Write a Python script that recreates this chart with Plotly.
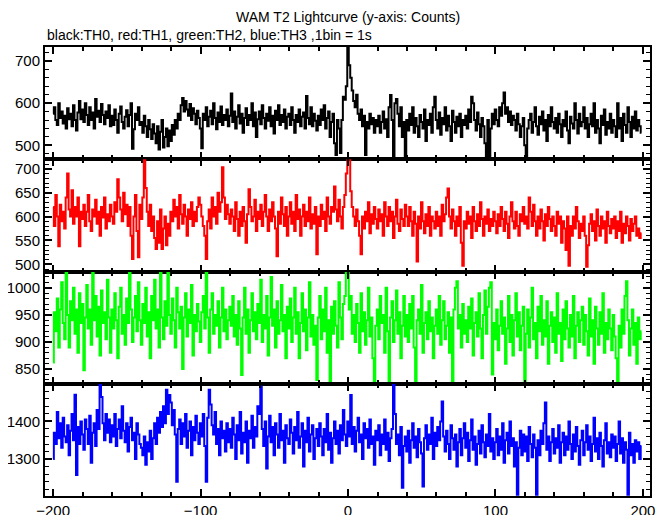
import plotly.graph_objects as go
from plotly.subplots import make_subplots

# time bins (s), 1 bin = 1 s
time_s = list(range(-200, 200))

th0_black = [
    575, 590, 560, 548, 600, 565, 580, 552, 570, 540, 588, 562, 575, 545, 595, 560, 535, 578, 605, 562,
    585, 555, 600, 572, 548, 590, 560, 578, 540, 610, 568, 582, 555, 598, 572, 550, 580, 565, 595, 545,
    570, 548, 585, 560, 530, 575, 592, 555, 540, 568, 583, 545, 572, 600, 492, 538, 575, 560, 590, 548,
    555, 530, 570, 545, 520, 560, 538, 515, 550, 528, 505, 545, 490, 532, 560, 495, 520, 540, 498, 535,
    510, 548, 525, 560, 540, 575, 560, 595, 612, 580, 605, 585, 570, 598, 560, 588, 575, 550, 582, 565,
    540, 493, 575, 560, 590, 545, 568, 582, 550, 600, 565, 538, 578, 555, 592, 548, 572, 560, 585, 545,
    570, 623, 555, 580, 540, 568, 595, 552, 575, 530, 565, 588, 548, 572, 560, 600, 545, 578, 520, 562,
    580, 550, 595, 565, 540, 575, 558, 590, 545, 570, 528, 582, 560, 595, 548, 572, 555, 585, 540, 568,
    575, 548, 590, 560, 530, 572, 555, 585, 545, 568, 578, 540, 617, 565, 550, 590, 545, 575, 558, 535,
    570, 548, 585, 560, 595, 540, 565, 580, 520, 555, 575, 505, 477, 560, 540, 482, 560, 615, 608, 640,
    745, 690, 660, 630, 605, 590, 620, 575, 560, 585, 545, 570, 477, 555, 540, 575, 550, 565, 530, 560,
    545, 570, 530, 555, 580, 540, 562, 520, 590, 619, 560, 472, 600, 610, 575, 545, 590, 520, 555, 470,
    560, 535, 575, 548, 590, 530, 565, 545, 520, 572, 555, 540, 585, 510, 560, 548, 575, 530, 590, 615,
    560, 540, 578, 525, 565, 550, 590, 535, 570, 545, 510, 582, 555, 530, 568, 545, 575, 520, 560, 548,
    570, 540, 585, 555, 615, 600, 560, 535, 578, 550, 520, 565, 545, 505, 472, 560, 470, 540, 575, 550,
    585, 560, 545, 590, 570, 600, 625, 575, 590, 555, 580, 548, 570, 560, 535, 575, 550, 520, 545, 565,
    500, 470, 540, 560, 575, 530, 555, 590, 545, 525, 568, 550, 580, 535, 560, 510, 572, 545, 590, 555,
    540, 565, 530, 575, 550, 520, 560, 545, 580, 535, 505, 568, 552, 540, 600, 560, 528, 575, 545, 555,
    590, 540, 565, 520, 550, 575, 545, 600, 530, 560, 540, 505, 570, 548, 585, 525, 555, 540, 575, 530,
    560, 545, 520, 600, 540, 565, 510, 575, 548, 530, 590, 555, 520, 568, 540, 580, 535, 560, 545, 530,
]

th1_red = [
    620, 580, 645, 600, 538, 625, 590, 610, 575, 640, 690, 615, 600, 655, 585, 620, 600, 640, 538, 610,
    595, 625, 580, 610, 645, 590, 570, 615, 600, 635, 585, 610, 560, 620, 598, 640, 575, 605, 590, 625,
    600, 585, 630, 610, 678, 640, 615, 590, 650, 605, 625, 580, 620, 560, 511, 600, 645, 570, 515, 625,
    595, 640, 725, 660, 610, 580, 625, 570, 600, 555, 532, 590, 545, 615, 532, 575, 600, 540, 585, 560,
    610, 590, 635, 600, 620, 575, 645, 605, 585, 625, 600, 560, 615, 595, 630, 580, 610, 590, 620, 640,
    625, 600, 580, 560, 511, 590, 615, 575, 640, 600, 620, 585, 650, 610, 630, 703, 640, 595, 625, 605,
    585, 615, 600, 570, 630, 595, 560, 610, 580, 620, 590, 545, 605, 657, 620, 590, 600, 635, 570, 610,
    595, 625, 580, 610, 645, 600, 570, 615, 590, 630, 600, 575, 517, 610, 585, 640, 605, 580, 620, 560,
    600, 630, 585, 610, 570, 645, 595, 615, 560, 600, 625, 580, 610, 590, 640, 575, 605, 585, 620, 521,
    600, 580, 625, 595, 610, 570, 640, 600, 585, 620, 610, 663, 615, 590, 635, 600, 575, 620, 645, 690,
    730, 725, 653, 620, 600, 580, 615, 590, 560, 521, 600, 575, 610, 590, 630, 565, 605, 585, 620, 595,
    575, 615, 590, 605, 560, 630, 600, 580, 620, 590, 610, 555, 600, 635, 585, 570, 615, 595, 580, 625,
    600, 580, 620, 590, 560, 610, 585, 506, 600, 575, 630, 590, 565, 605, 580, 620, 560, 600, 590, 575,
    610, 580, 600, 560, 625, 590, 605, 640, 659, 600, 575, 615, 590, 560, 600, 580, 620, 545, 497, 590,
    575, 610, 585, 600, 555, 620, 590, 570, 605, 580, 630, 595, 560, 600, 585, 615, 570, 595, 580, 610,
    590, 565, 605, 580, 620, 595, 570, 610, 585, 555, 600, 630, 590, 575, 610, 580, 560, 605, 590, 620,
    585, 600, 575, 640, 610, 580, 625, 590, 560, 600, 575, 615, 590, 550, 605, 580, 620, 595, 570, 600,
    580, 560, 610, 585, 600, 545, 590, 575, 530, 600, 497, 580, 560, 600, 575, 620, 590, 555, 585, 570,
    600, 560, 495, 540, 585, 605, 570, 590, 550, 615, 580, 560, 600, 575, 590, 545, 610, 580, 565, 595,
    575, 600, 555, 590, 570, 610, 545, 585, 565, 600, 580, 550, 595, 570, 585, 600, 560, 575, 555, 565,
]

th2_green = [
    862, 955, 920, 980, 890, 960, 1010, 935, 905, 1030, 950, 890, 975, 940, 1000, 915, 960, 880, 990, 935,
    970, 848, 945, 1005, 925, 960, 895, 1030, 940, 985, 910, 965, 875, 995, 935, 955, 905, 1015, 945, 880,
    960, 925, 990, 940, 870, 965, 1000, 915, 950, 895, 980, 935, 1030, 960, 900, 945, 985, 920, 1010, 940,
    895, 970, 935, 1000, 910, 955, 870, 985, 940, 1015, 925, 960, 890, 1030, 945, 905, 975, 930, 1030, 950,
    915, 980, 940, 890, 1000, 955, 925, 965, 850, 945, 990, 910, 960, 935, 1005, 875, 950, 920, 970, 938,
    900, 955, 985, 925, 1030, 945, 880, 960, 990, 915, 950, 930, 975, 890, 945, 1000, 920, 960, 905, 940,
    965, 930, 985, 910, 950, 895, 975, 925, 839, 945, 1000, 915, 960, 880, 940, 990, 920, 955, 905, 970,
    935, 1015, 900, 950, 925, 985, 875, 945, 1020, 930, 960, 890, 975, 915, 940, 1005, 920, 950, 870, 965,
    925, 980, 900, 945, 1000, 915, 955, 870, 935, 990, 920, 960, 885, 945, 1010, 910, 950, 895, 930, 830,
    945, 985, 905, 960, 920, 1000, 880, 940, 825, 965, 915, 975, 930, 890, 1010, 945, 905, 970, 985, 1030,
    1030, 960, 985, 915, 950, 900, 970, 935, 880, 990, 920, 955, 895, 940, 1000, 910, 945, 870, 823, 930,
    960, 905, 985, 935, 950, 880, 1000, 920, 823, 945, 975, 900, 940, 995, 915, 955, 870, 930, 985, 910,
    950, 900, 970, 925, 985, 890, 823, 940, 960, 915, 1005, 880, 935, 955, 905, 975, 920, 945, 870, 930,
    960, 915, 985, 895, 940, 975, 905, 930, 955, 880, 945, 827, 960, 1000, 1012, 925, 950, 890, 970, 915,
    940, 900, 965, 925, 980, 875, 935, 955, 910, 990, 925, 870, 950, 995, 915, 965, 1000, 1010, 840, 935,
    905, 960, 885, 930, 975, 915, 945, 860, 925, 985, 900, 950, 875, 940, 990, 910, 955, 885, 930, 965,
    827, 915, 960, 890, 945, 1000, 905, 935, 870, 965, 920, 985, 895, 940, 910, 975, 860, 930, 955, 900,
    945, 880, 990, 915, 935, 865, 960, 905, 975, 925, 890, 950, 910, 985, 870, 930, 955, 900, 940, 965,
    895, 950, 920, 875, 980, 910, 940, 860, 965, 925, 895, 955, 915, 990, 880, 935, 905, 960, 925, 885,
    950, 910, 870, 823, 930, 890, 960, 915, 985, 1012, 940, 875, 925, 960, 895, 935, 860, 945, 905, 920,
]

th3_blue = [
    1300, 1370, 1340, 1425, 1355, 1395, 1330, 1410, 1360, 1345, 1390, 1310, 1375, 1420, 1350, 1471, 1258, 1385, 1340, 1400,
    1365, 1325, 1405, 1380, 1340, 1415, 1290, 1370, 1395, 1335, 1430, 1380, 1497, 1465, 1395, 1350, 1420, 1370, 1405, 1345,
    1390, 1360, 1420, 1335, 1380, 1405, 1355, 1440, 1375, 1345, 1395, 1320, 1385, 1410, 1350, 1370, 1300, 1395, 1365, 1340,
    1330, 1310, 1360, 1285, 1345, 1320, 1375, 1300, 1355, 1395, 1340, 1410, 1370, 1425, 1385, 1440, 1395, 1484, 1420, 1470,
    1450, 1390, 1430, 1365, 1240, 1380, 1405, 1340, 1395, 1360, 1420, 1330, 1375, 1400, 1310, 1385, 1350, 1415, 1370, 1340,
    1395, 1360, 1420, 1335, 1240, 1410, 1484, 1445, 1390, 1365, 1425, 1340, 1380, 1310, 1400, 1355, 1375, 1320, 1395, 1345,
    1380, 1330, 1410, 1365, 1300, 1390, 1350, 1425, 1315, 1370, 1345, 1400, 1290, 1375, 1355, 1415, 1330, 1385, 1360, 1440,
    1420, 1493, 1380, 1335, 1400, 1275, 1360, 1415, 1345, 1385, 1310, 1395, 1365, 1330, 1420, 1350, 1375, 1290, 1390, 1355,
    1340, 1405, 1370, 1315, 1385, 1350, 1425, 1330, 1360, 1395, 1280, 1375, 1345, 1410, 1320, 1365, 1390, 1300, 1355, 1380,
    1335, 1395, 1360, 1310, 1380, 1345, 1420, 1325, 1370, 1290, 1355, 1400, 1340, 1375, 1315, 1390, 1350, 1430, 1365, 1335,
    1400, 1360, 1470, 1340, 1385, 1320, 1375, 1410, 1345, 1365, 1300, 1395, 1355, 1380, 1330, 1405, 1340, 1360, 1285, 1375,
    1350, 1390, 1310, 1365, 1340, 1405, 1325, 1370, 1295, 1355, 1380, 1503, 1420, 1340, 1365, 1310, 1385, 1224, 1335, 1360,
    1320, 1375, 1290, 1350, 1395, 1330, 1360, 1305, 1380, 1345, 1315, 1227, 1355, 1390, 1325, 1365, 1340, 1410, 1300, 1370,
    1335, 1385, 1350, 1400, 1453, 1360, 1320, 1375, 1340, 1300, 1390, 1355, 1325, 1365, 1280, 1345, 1380, 1310, 1355, 1395,
    1330, 1370, 1295, 1350, 1405, 1325, 1360, 1285, 1340, 1375, 1315, 1390, 1345, 1305, 1365, 1335, 1420, 1320, 1355, 1300,
    1345, 1380, 1310, 1360, 1325, 1395, 1290, 1350, 1370, 1315, 1400, 1335, 1355, 1280, 1345, 1205, 1330, 1375, 1310, 1365,
    1320, 1360, 1295, 1385, 1340, 1305, 1365, 1330, 1205, 1350, 1310, 1375, 1340, 1395, 1450, 1325, 1360, 1295, 1345, 1380,
    1315, 1355, 1330, 1390, 1290, 1345, 1370, 1310, 1360, 1325, 1400, 1340, 1300, 1365, 1320, 1385, 1335, 1285, 1350, 1375,
    1310, 1345, 1390, 1325, 1360, 1295, 1340, 1410, 1320, 1355, 1300, 1370, 1335, 1280, 1350, 1395, 1315, 1345, 1305, 1365,
    1330, 1360, 1295, 1340, 1400, 1315, 1355, 1290, 1345, 1325, 1205, 1370, 1310, 1340, 1290, 1350, 1320, 1345, 1300, 1335,
]

y_tick_sets = [
    [500, 600, 700],
    [500, 550, 600, 650, 700],
    [850, 900, 950, 1000],
    [1300, 1400],
]

series = [
    ("TH0", th0_black, "#000000", [467, 733], 20),
    ("TH1", th1_red, "#ff0000", [485, 720], 10),
    ("TH2", th2_green, "#00ff00", [823, 1030], 10),
    ("TH3", th3_blue, "#0000ff", [1202, 1500], 20),
]

x_ticks = [-200, -100, 0, 100, 200]

fig = make_subplots(rows=4, cols=1, shared_xaxes=True, vertical_spacing=0)

FONT = "Liberation Sans, Arial, Helvetica, sans-serif"

for i, (name, vals, color, yr, mdt) in enumerate(series, start=1):
    fig.add_trace(
        go.Scatter(x=time_s, y=vals, mode="lines", name=name,
                   line=dict(color=color, width=2, shape="hvh")),
        row=i, col=1,
    )
    fig.update_yaxes(
        range=yr, tickvals=y_tick_sets[i - 1], showgrid=False, zeroline=False,
        showline=True, linecolor="black", linewidth=2, mirror="allticks",
        ticks="inside", ticklen=7, tickwidth=1.5, tickcolor="black",
        minor=dict(dtick=mdt, tick0=0, ticks="inside", ticklen=4, tickwidth=1, tickcolor="black", showgrid=False),
        tickfont=dict(family=FONT, size=15, color="black"),
        automargin=False,
        row=i, col=1,
    )
    fig.update_xaxes(
        range=[-205.5, 204.8], tickvals=x_ticks, showgrid=False, zeroline=False,
        showline=True, linecolor="black", linewidth=2, mirror="allticks",
        ticks="inside", ticklen=7, tickwidth=2, tickcolor="black",
        minor=dict(dtick=20, tick0=0, ticks="inside", ticklen=4, tickwidth=1.5, tickcolor="black", showgrid=False),
        tickfont=dict(family=FONT, size=15, color="black"),
        showticklabels=(i == 4),
        automargin=False,
        row=i, col=1,
    )

fig.add_annotation(
    text="WAM T2 Lightcurve (y-axis: Counts)", xref="paper", yref="paper",
    x=0.5, y=1.066, xanchor="center", yanchor="middle", showarrow=False,
    font=dict(family=FONT, size=14, color="black"),
)
fig.add_annotation(
    text="black:TH0, red:TH1, green:TH2, blue:TH3 ,1bin = 1s", xref="paper", yref="paper",
    x=0.0, y=1.026, xanchor="left", yanchor="middle", showarrow=False,
    font=dict(family=FONT, size=14, color="black"),
)

# page body has an 8 px default margin, so the figure is shrunk by that amount
fig.update_layout(
    width=661, height=507,
    margin=dict(l=37, r=19, t=39, b=19),
    paper_bgcolor="white", plot_bgcolor="white",
    showlegend=False,
    font=dict(family=FONT, color="black"),
)

fig.write_html("out.html")
